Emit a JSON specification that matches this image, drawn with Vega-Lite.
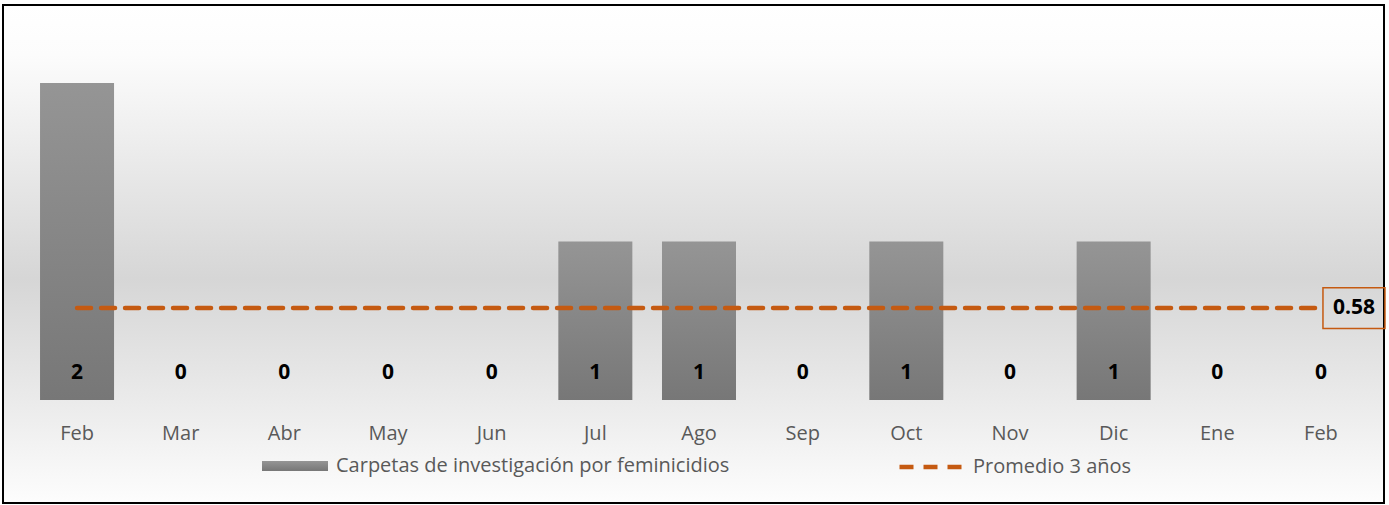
{
  "$schema": "https://vega.github.io/schema/vega-lite/v6.json",
  "width": 1381,
  "height": 498,
  "autosize": "none",
  "padding": {"left": 3, "top": 5, "right": 5, "bottom": 2},
  "background": "#ffffff",
  "config": {
    "font": "Open Sans",
    "view": {
      "fill": {"gradient": "linear", "x1": 0, "y1": 0, "x2": 0, "y2": 1,
        "stops": [
          {"offset": 0, "color": "#ffffff"},
          {"offset": 0.1, "color": "#fcfcfc"},
          {"offset": 0.55, "color": "#d6d6d6"},
          {"offset": 0.8, "color": "#ebebeb"},
          {"offset": 1, "color": "#fdfdfd"}
        ]},
      "stroke": "#000000",
      "strokeWidth": 2
    }
  },
  "data": {
    "values": [
      {"mes": "Feb 2022", "valor": 2, "prom": 0.58, "serie": "Carpetas de investigación por feminicidios", "serie2": "Promedio 3 años"},
      {"mes": "Mar 2022", "valor": 0, "prom": 0.58, "serie": "Carpetas de investigación por feminicidios", "serie2": "Promedio 3 años"},
      {"mes": "Abr 2022", "valor": 0, "prom": 0.58, "serie": "Carpetas de investigación por feminicidios", "serie2": "Promedio 3 años"},
      {"mes": "May 2022", "valor": 0, "prom": 0.58, "serie": "Carpetas de investigación por feminicidios", "serie2": "Promedio 3 años"},
      {"mes": "Jun 2022", "valor": 0, "prom": 0.58, "serie": "Carpetas de investigación por feminicidios", "serie2": "Promedio 3 años"},
      {"mes": "Jul 2022", "valor": 1, "prom": 0.58, "serie": "Carpetas de investigación por feminicidios", "serie2": "Promedio 3 años"},
      {"mes": "Ago 2022", "valor": 1, "prom": 0.58, "serie": "Carpetas de investigación por feminicidios", "serie2": "Promedio 3 años"},
      {"mes": "Sep 2022", "valor": 0, "prom": 0.58, "serie": "Carpetas de investigación por feminicidios", "serie2": "Promedio 3 años"},
      {"mes": "Oct 2022", "valor": 1, "prom": 0.58, "serie": "Carpetas de investigación por feminicidios", "serie2": "Promedio 3 años"},
      {"mes": "Nov 2022", "valor": 0, "prom": 0.58, "serie": "Carpetas de investigación por feminicidios", "serie2": "Promedio 3 años"},
      {"mes": "Dic 2022", "valor": 1, "prom": 0.58, "serie": "Carpetas de investigación por feminicidios", "serie2": "Promedio 3 años"},
      {"mes": "Ene 2023", "valor": 0, "prom": 0.58, "serie": "Carpetas de investigación por feminicidios", "serie2": "Promedio 3 años"},
      {"mes": "Feb 2023", "valor": 0, "prom": 0.58, "serie": "Carpetas de investigación por feminicidios", "serie2": "Promedio 3 años"}
    ]
  },
  "encoding": {
    "x": {
      "field": "mes", "type": "nominal", "sort": null,
      "scale": {"range": [22, 1370], "paddingInner": 0.286, "paddingOuter": 0.145},
      "axis": {
        "title": null, "orient": "bottom", "offset": -82, "domain": false, "ticks": false,
        "labelAngle": 0, "labelPadding": 2, "labelFontSize": 20, "labelColor": "#595959",
        "labelExpr": "slice(datum.label, 0, 3)", "grid": false
      }
    }
  },
  "layer": [
    {
      "mark": {"type": "bar",
        "fill": {"gradient": "linear", "x1": 0, "y1": 0, "x2": 0, "y2": 1,
          "stops": [{"offset": 0, "color": "#959595"}, {"offset": 1, "color": "#777777"}]}},
      "encoding": {
        "y": {"field": "valor", "type": "quantitative",
          "scale": {"domain": [0, 2.492], "range": [395, 0], "nice": false, "zero": true},
          "axis": null},
        "opacity": {"field": "serie", "type": "nominal", "scale": {"range": [1]},
          "legend": {"title": null, "orient": "none", "legendX": 259, "legendY": 428,
            "padding": 0, "symbolType": "M-1,-0.15H1V0.15H-1Z", "symbolSize": 4356,
            "symbolFillColor": "#808080", "symbolStrokeWidth": 0, "symbolOpacity": 1,
            "labelFontSize": 20, "labelColor": "#595959", "labelOffset": 8, "labelLimit": 600}}
      }
    },
    {
      "mark": {"type": "line", "strokeDash": [14, 10], "strokeCap": "round", "strokeWidth": 4.5},
      "encoding": {
        "y": {"field": "prom", "type": "quantitative"},
        "stroke": {"field": "serie2", "type": "nominal", "scale": {"range": ["#c55a11"]},
          "legend": {"title": null, "orient": "none", "legendX": 894, "legendY": 428,
            "padding": 0, "symbolType": "stroke", "symbolSize": 3969, "symbolStrokeWidth": 4.5,
            "symbolDash": [14, 10], "symbolStrokeColor": "#c55a11",
            "labelFontSize": 20, "labelColor": "#595959", "labelOffset": 8, "labelLimit": 600}}
      }
    },
    {
      "mark": {"type": "text", "fontWeight": "bold", "fontSize": 21, "color": "#000000", "baseline": "middle", "dy": -27},
      "encoding": {
        "y": {"datum": 0, "type": "quantitative"},
        "text": {"field": "valor", "type": "quantitative"}
      }
    },
    {
      "transform": [{"filter": "datum.mes === 'Feb 2023'"}],
      "mark": {"type": "point", "shape": "M0.05,-0.51H1.6V0.51H0.05Z", "size": 6400, "filled": false,
        "stroke": "#c55a11", "strokeWidth": 1.5, "opacity": 1},
      "encoding": {"y": {"field": "prom", "type": "quantitative"}}
    },
    {
      "transform": [{"filter": "datum.mes === 'Feb 2023'"}],
      "mark": {"type": "text", "fontWeight": "bold", "fontSize": 21, "color": "#000000", "dx": 33, "baseline": "middle"},
      "encoding": {
        "y": {"field": "prom", "type": "quantitative"},
        "text": {"field": "prom", "type": "quantitative", "format": ".2f"}
      }
    }
  ]
}
